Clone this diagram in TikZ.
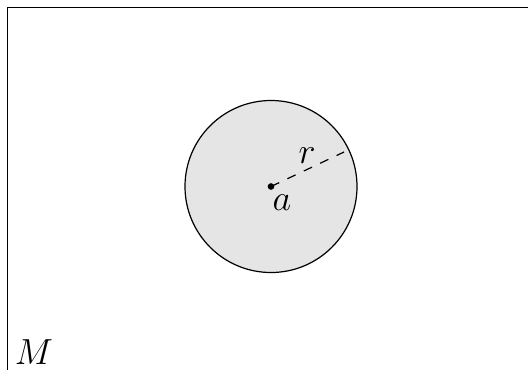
\documentclass[tikz,border=0pt]{standalone}
\begin{document}
\begin{tikzpicture}[x=0.011628cm,y=-0.011628cm,
  frame/.style={line width=0.5pt},
  disk/.style={circle,draw,fill=gray!20,minimum size=172*0.011628cm,inner sep=0pt},
  lbl/.style={inner sep=0pt,font=\fontsize{11.7}{14}\selectfont}]
\useasboundingbox (0,0) rectangle (528,369);
\clip (0,0) rectangle (528,369);
\draw[frame] (7.5,400) -- (7.5,7.5) -- (600,7.5);
\node[disk] (D) at (271,186.5) {};
\coordinate (a) at (271,186.5);
\coordinate (e) at (344,152);
\draw[dashed] (a) -- (e);
\fill (a) circle (1.1pt);
\node[lbl] (ra) at (307,156) {$r$};
\node[lbl] (la) at (282,203) {$a$};
\node[lbl] (M) at (34,352) {$M$};
\end{tikzpicture}
\end{document}
